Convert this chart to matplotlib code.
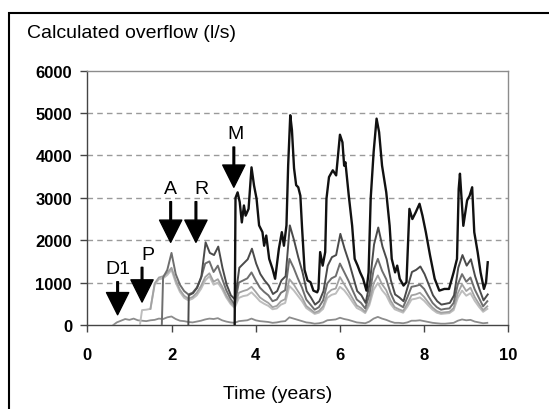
import numpy as np
import matplotlib
matplotlib.use("Agg")
import matplotlib.pyplot as plt
from matplotlib.patches import Rectangle

plt.rcParams["font.family"] = ["Liberation Sans", "DejaVu Sans"]

# --- data ---
# M scenario (black), irregular sampling
m_t = [3.50, 3.52, 3.57, 3.62, 3.67, 3.72, 3.76, 3.83, 3.90, 3.96, 4.02, 4.08, 4.16, 4.20,
       4.25, 4.32, 4.40, 4.46, 4.49, 4.55, 4.62, 4.67, 4.73, 4.77, 4.82, 4.86, 4.91, 4.96,
       5.01, 5.06, 5.10, 5.16, 5.23, 5.30, 5.37, 5.46, 5.49, 5.53, 5.59, 5.65, 5.68, 5.74,
       5.83, 5.91, 6.00, 6.06, 6.10, 6.13, 6.21, 6.29, 6.35, 6.42, 6.48, 6.55, 6.63, 6.68,
       6.73, 6.80, 6.87, 6.93, 7.00, 7.10, 7.18, 7.23, 7.31, 7.36, 7.42, 7.51, 7.58, 7.65,
       7.72, 7.80, 7.89, 7.96, 8.04, 8.14, 8.25, 8.36, 8.48, 8.59, 8.70, 8.78, 8.82, 8.85,
       8.93, 9.02, 9.08, 9.14, 9.19, 9.27, 9.34, 9.42, 9.47, 9.51]
m_q = [0, 3000, 3130, 2900, 2420, 2820, 2580, 2740, 3720, 3290, 2980, 2350, 2190, 1870,
       2110, 1560, 1320, 1090, 1320, 1800, 2190, 1870, 2350, 3760, 4950, 4600, 3700, 3300,
       3250, 3050, 2300, 1300, 1050, 1010, 810, 770, 850, 1720, 1400, 1720, 2980, 3490,
       3650, 3530, 4490, 4310, 3760, 3840, 3050, 2340, 1560, 1400, 1240, 1090, 810, 1240,
       2980, 4080, 4870, 4550, 3760, 3130, 2340, 1560, 1240, 1400, 1090, 930, 1010, 2740,
       2500, 2660, 2860, 2580, 2190, 1640, 1090, 810, 850, 850, 1240, 1560, 3210, 3570,
       2340, 2940, 3050, 3250, 2190, 1720, 1240, 850, 1010, 1480]

# other scenarios: start time, first sample time, values every 0.1 year
d1_start, d1_first = 0.62, 0.7
d1_q = [60, 100, 140, 120, 150, 110, 100, 90, 110, 120, 150, 140, 180, 200, 140, 100, 90,
        70, 60, 80, 100, 130, 150, 140, 160, 110, 80, 60, 50, 90, 100, 110, 150, 110, 90,
        80, 70, 50, 60, 80, 90, 180, 150, 120, 90, 60, 50, 30, 40, 60, 110, 120, 130, 170,
        140, 120, 90, 60, 50, 40, 80, 150, 190, 150, 120, 80, 50, 50, 40, 60, 100, 100, 110,
        90, 70, 50, 40, 30, 30, 40, 50, 100, 130, 110, 120, 80, 60, 40, 50]

p_start, p_first = 1.25, 1.3
p_q = [350, 360, 380, 950, 1080, 1100, 1180, 1300, 1000, 780, 640, 580, 620, 700, 850,
       1050, 1150, 950, 1000, 850, 650, 500,
       400, 640, 680, 700, 770, 670, 560, 500, 450, 370, 390, 480, 520, 920, 820, 690, 560,
       400, 330, 260, 290, 380, 640, 710, 740, 900, 820, 690, 540, 400, 350, 280, 470, 830,
       990, 820, 700, 500, 370, 330, 290, 430, 600, 620, 650, 570, 460, 360, 290, 260, 270,
       280, 350, 640, 810, 690, 750, 570, 430, 310, 380]

p2_first = 1.5
p2_q = [380, 980, 1120, 1150, 1230, 1350, 1060, 830, 690, 620, 660, 760, 920, 1130, 1220,
        1020, 1080, 910, 700, 540,
        430, 760, 800, 830, 900, 780, 650, 580, 520, 420, 450, 560, 610, 1080, 960, 800, 650,
        450, 370, 290, 330, 440, 740, 830, 860, 1130, 960, 800, 630, 460, 400, 310, 540, 980,
        1170, 960, 820, 580, 420, 370, 330, 500, 700, 720, 760, 660, 530, 410, 330, 290, 300,
        310, 400, 750, 960, 800, 880, 660, 500, 350, 440]

a_start, a_first = 1.77, 1.8
a_q = [1120, 1300, 1700, 1200, 950, 800, 720, 760, 880, 1100, 1450, 1500, 1250, 1400, 1100,
       820, 620,
       480, 1000, 1050, 1100, 1240, 1050, 880, 780, 700, 560, 600, 760, 820, 1560, 1350, 1100,
       880, 600, 480, 360, 420, 580, 980, 1100, 1150, 1450, 1250, 1050, 820, 600, 520, 390,
       720, 1300, 1560, 1280, 1080, 760, 540, 480, 420, 650, 900, 920, 950, 850, 680, 520,
       420, 360, 380, 390, 520, 960, 1200, 1020, 1120, 840, 640, 440, 560]

r_start, r_first = 2.4, 2.41
r_q = [700, 750, 880, 1150, 1950, 1700, 1650, 1850, 1350, 950, 700,
       600, 1350, 1450, 1550, 1800, 1450, 1200, 1050, 930, 730, 800, 1050, 1150, 2350, 2000,
       1600, 1250, 800, 650, 480, 560, 800, 1400, 1600, 1650, 2150, 1800, 1500, 1150, 800,
       700, 520, 1000, 1900, 2300, 1850, 1550, 1050, 720, 650, 560, 900, 1250, 1300, 1380,
       1200, 950, 700, 560, 480, 500, 520, 700, 1350, 1650, 1400, 1550, 1150, 850, 580, 720]

# arrows marking when each measure comes in
arrow_labels = ["D1", "P", "A", "R", "M"]
arrow_t = [0.72, 1.30, 1.98, 2.58, 3.48]
arrow_tip = [240, 540, 1950, 1950, 3250]
arrow_top = [1020, 1360, 2910, 2910, 4200]
label_t = [0.72, 1.45, 1.98, 2.70, 3.52]

# --- figure ---
fig = plt.figure(figsize=(5.49, 4.10), dpi=100)
ax = fig.add_axes([0.159, 0.205, 0.767, 0.620])

# outer frame, cut off at right and bottom like the source
fig.patches.append(Rectangle((9 / 549, -0.1), 2.0, (410 - 14) / 410 + 0.1,
                             transform=fig.transFigure, fill=False,
                             edgecolor="black", linewidth=1.5))


def grid_series(start, first, q, vertical=True):
    t = first + 0.1 * np.arange(len(q))
    t = t[t <= 9.52]
    q = np.asarray(q[:len(t)], dtype=float)
    if vertical:
        return np.r_[start, t], np.r_[0.0, q]
    return t, q


for start, first, q, col, lw, vert in [
    (d1_start, d1_first, d1_q, "#8c8c8c", 1.3, True),
    (p_start, p_first, p_q, "#bdbdbd", 1.4, True),
    (None, p2_first, p2_q, "#a2a2a2", 1.3, False),
    (a_start, a_first, a_q, "#6e6e6e", 1.4, True),
    (r_start, r_first, r_q, "#4a4a4a", 1.4, True),
]:
    t, q = grid_series(start, first, q, vert)
    ax.plot(t, q, color=col, lw=lw, zorder=3)

ax.plot(m_t, m_q, color="#111111", lw=1.7, zorder=4)

for lab, t, tip, top, lt in zip(arrow_labels, arrow_t, arrow_tip, arrow_top, label_t):
    ax.annotate("", xy=(t, tip), xytext=(t, top),
                arrowprops=dict(facecolor="black", edgecolor="black", width=1.2,
                                headwidth=16, headlength=16, shrink=0), zorder=5)
    ax.text(lt, top + 110, lab, ha="center", va="bottom", fontsize=14, zorder=5)

ax.set_xlim(0, 10)
ax.set_ylim(0, 6000)
ax.set_xticks(range(0, 11, 2))
ax.set_yticks(range(0, 6001, 1000))
ax.tick_params(axis="both", direction="out", length=5, width=1, color="#444444",
               labelsize=12)
ax.tick_params(axis="x", pad=11)
ax.tick_params(axis="y", pad=6)
for lab in ax.get_xticklabels() + ax.get_yticklabels():
    lab.set_fontweight("bold")

for y in range(1000, 6000, 1000):
    ax.axhline(y, color="#9a9a9a", lw=1, ls=(0, (4, 3)), zorder=1)

ax.spines["top"].set_color("#8c8c8c")
ax.spines["right"].set_color("#8c8c8c")
ax.spines["left"].set_color("#444444")
ax.spines["bottom"].set_color("#444444")
for s in ax.spines.values():
    s.set_linewidth(1)

fig.text(27 / 549, 1 - 33 / 410, "Calculated overflow (l/s)", ha="left", va="center",
         fontsize=14)
fig.text(278 / 549, 1 - 395 / 410, "Time (years)", ha="center", va="center",
         fontsize=14)

fig.savefig("out.png", dpi=100)
